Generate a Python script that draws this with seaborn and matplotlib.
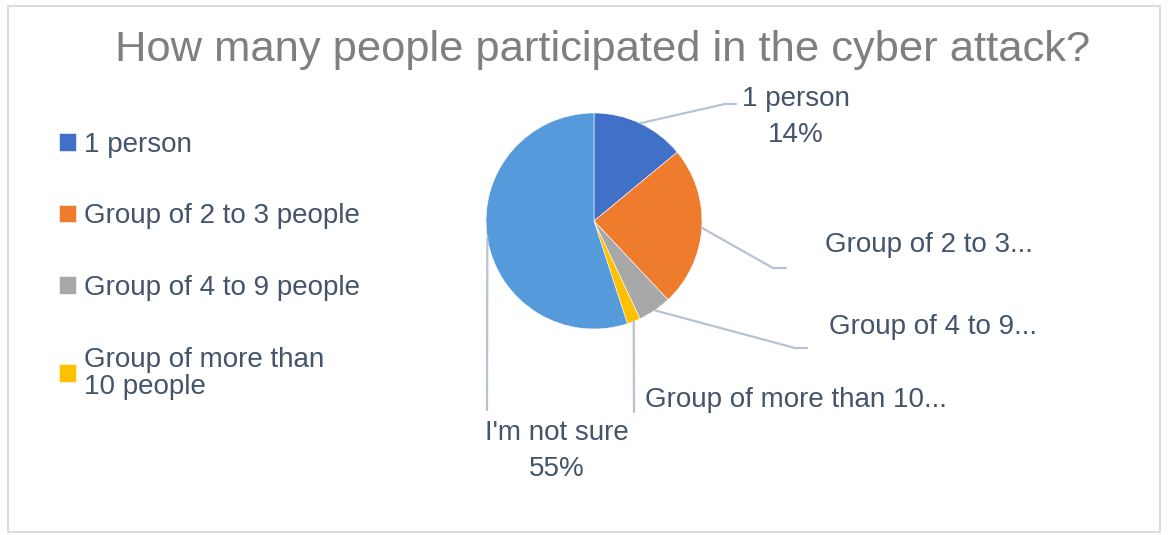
import numpy as np
import matplotlib
matplotlib.use("Agg")
import matplotlib.pyplot as plt
import seaborn as sns
from matplotlib.lines import Line2D
from matplotlib.patches import Rectangle

# chart data
categories = ["1 person", "Group of 2 to 3 people", "Group of 4 to 9 people",
              "Group of more than 10 people", "I'm not sure"]
shares = [14, 24, 5, 2, 55]
slice_labels = ["1 person\n14%", "Group of 2 to 3...", "Group of 4 to 9...",
                "Group of more than 10...", "I'm not sure\n55%"]
legend_labels = ["1 person", "Group of 2 to 3 people", "Group of 4 to 9 people",
                 "Group of more than\n10 people"]
colors = ["#4170C8", "#EF7B2C", "#A8A8A8", "#FFC000", "#559ADA"]

sns.set_theme(style="white")
plt.rcParams["font.family"] = ["Liberation Sans", "DejaVu Sans"]

W, H = 1170, 535
fig = plt.figure(figsize=(W / 100, H / 100), dpi=100)
fig.patch.set_facecolor("white")


def fx(x, y):
    # top-left pixel -> figure fraction
    return x / W, 1 - y / H


text_color = "#44546A"
lead_color = "#B7C2D2"

# outer frame
fig.patches.append(Rectangle(fx(8, 532), 1152 / W, 526 / H, transform=fig.transFigure,
                             fill=False, edgecolor="#D6D6D6", lw=1.2))

# pie axes: centre (594, 221), radius 108 px
cx, cy, r = 594, 221, 108
ax = fig.add_axes([(cx - r) / W, 1 - (cy + r) / H, 2 * r / W, 2 * r / H])
wedges, _ = ax.pie(shares, colors=colors, startangle=90, counterclock=False,
                   radius=1, wedgeprops=dict(edgecolor="white", linewidth=0.4))
ax.set_xlim(-1, 1)
ax.set_ylim(-1, 1)
ax.set_aspect("equal")
ax.axis("off")

fig.text(603 / W, fx(0, 50)[1], "How many people participated in the cyber attack?",
         ha="center", va="center", fontsize=31.3, color="#7F7F7F")

# leader lines: anchor at slice mid-angle, then elbow points (px)
elbows = [
    [(725, 104), (736, 104)],
    [(773, 268), (786, 268)],
    [(795, 348), (807, 348)],
    [(634, 412)],
    [(487, 410)],
]
cum = np.cumsum([0] + shares[:-1])
for i, s in enumerate(shares):
    mid = (cum[i] + s / 2) / sum(shares) * 2 * np.pi
    px, py = ax.transData.transform((np.sin(mid), np.cos(mid)))
    pts = [(px / W, py / H)] + [fx(*p) for p in elbows[i]]
    xs, ys = zip(*pts)
    fig.lines.append(Line2D(xs, ys, transform=fig.transFigure, color=lead_color, lw=1.6))

lab_fs = 20
label_pos = [(796, 117, "center"), (825, 245, "left"), (829, 327, "left"),
             (645, 400, "left"), (557, 451, "center")]
for (x, y, ha), lab in zip(label_pos, slice_labels):
    fig.text(*fx(x, y), lab, ha=ha, va="center", fontsize=lab_fs, color=text_color,
             linespacing=1.55, multialignment="center")

leg = fig.legend(wedges[:4], legend_labels, loc="upper left",
                 bbox_to_anchor=fx(45, 118), frameon=False, fontsize=lab_fs,
                 labelcolor=text_color, handlelength=0.6, handleheight=0.6,
                 handletextpad=0.3, labelspacing=1.64, borderpad=0)
leg.get_texts()[3].set_linespacing(1.05)

fig.savefig("out.png", dpi=100, facecolor="white")
